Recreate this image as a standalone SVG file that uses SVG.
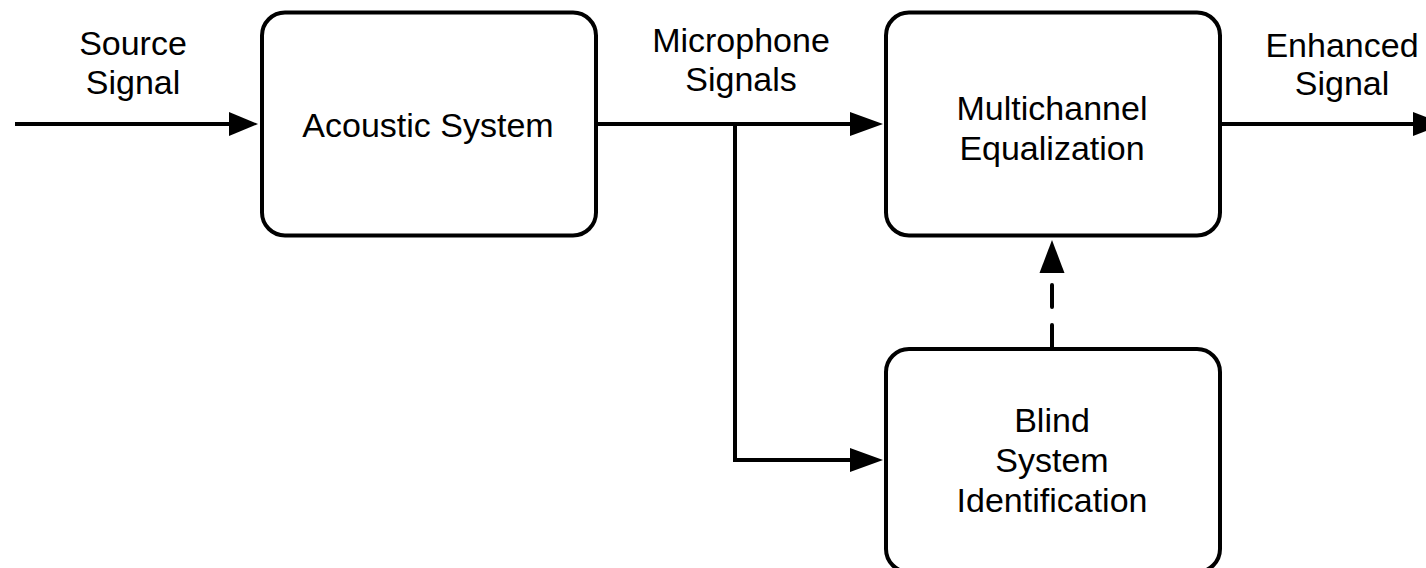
<svg xmlns="http://www.w3.org/2000/svg" width="1426" height="568" viewBox="0 0 1426 568">
  <style>
    .box { fill: #ffffff; stroke: #000000; stroke-width: 4; }
    .wire { fill: none; stroke: #000000; stroke-width: 4; }
    .dash { fill: none; stroke: #000000; stroke-width: 4; stroke-linecap: round; stroke-dasharray: 22 18; }
    .head { fill: #000000; stroke: none; }
    text { font-family: "Liberation Sans", Arial, sans-serif; font-size: 34px; fill: #000000; text-anchor: middle; }
  </style>
  <rect width="1426" height="568" fill="#ffffff"/>

  <!-- signal flow lines -->
  <g id="connectors">
    <line class="wire" x1="15" y1="124" x2="232" y2="124"/>
    <polygon class="head" points="258,124 229,112 229,136"/>

    <line class="wire" x1="596" y1="124" x2="852" y2="124"/>
    <polygon class="head" points="883,124 850,112 850,136"/>

    <polyline class="wire" points="735,124 735,460 852,460"/>
    <polygon class="head" points="883,460 850,448 850,472"/>

    <line class="wire" x1="1220" y1="124" x2="1414" y2="124"/>
    <polygon class="head" points="1444,124 1413,112 1413,136"/>

    <line class="dash" x1="1052" y1="347" x2="1052" y2="285"/>
    <polygon class="head" points="1052,240 1039.5,273 1064.5,273"/>

    <text x="133" y="55">Source</text>
    <text x="133" y="94">Signal</text>
    <text x="741" y="52">Microphone</text>
    <text x="741" y="91">Signals</text>
    <text x="1342" y="57">Enhanced</text>
    <text x="1342" y="95">Signal</text>
  </g>

  <g id="acoustic-system">
    <rect class="box" x="262" y="12.5" width="334" height="223" rx="23" ry="23"/>
    <text x="428" y="136.5">Acoustic System</text>
  </g>

  <g id="multichannel-equalization">
    <rect class="box" x="886" y="12.5" width="334" height="223" rx="23" ry="23"/>
    <text x="1052" y="120">Multichannel</text>
    <text x="1052" y="160">Equalization</text>
  </g>

  <g id="blind-system-identification">
    <rect class="box" x="886" y="349" width="334" height="223" rx="23" ry="23"/>
    <text x="1052" y="432">Blind</text>
    <text x="1052" y="472">System</text>
    <text x="1052" y="512">Identification</text>
  </g>
</svg>
